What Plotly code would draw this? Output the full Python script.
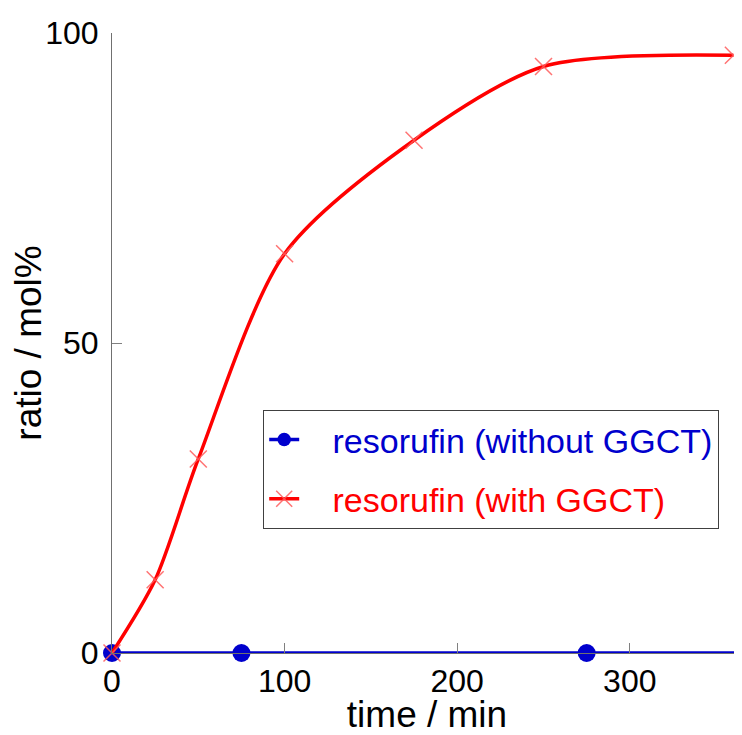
import plotly.graph_objects as go

# data
time_without = [0, 75, 275, 365]
ratio_without = [0, 0, 0, 0]
time_with = [0, 25, 50, 100, 175, 250, 360]
ratio_with = [0, 11.8, 31.3, 64.4, 82.7, 94.6, 96.4]
x_ticks = [0, 100, 200, 300]
y_ticks = [0, 50, 100]

BLUE = "#0000CD"
RED = "#FF0000"
FONT = "Liberation Sans, Arial, sans-serif"
NB = "\u00a0"

fig = go.Figure()
fig.add_trace(go.Scatter(
    x=time_without, y=ratio_without, mode="lines+markers",
    name=NB * 3 + '<span style="color:#0000CD">resorufin (without GGCT)</span>',
    line=dict(color=BLUE, width=3.5),
    marker=dict(symbol="circle", size=[18, 18, 18, 0], color=BLUE, opacity=1,
                line=dict(width=0)),
    legendgroup="a", cliponaxis=False,
))
fig.add_trace(go.Scatter(
    x=time_with, y=ratio_with, mode="lines+markers",
    name=NB * 3 + '<span style="color:#FF0000">resorufin (with GGCT)</span>',
    line=dict(color=RED, width=3.5, shape="spline", smoothing=0.8),
    marker=dict(symbol="x-thin", size=17, color="rgba(255,90,90,0.85)",
                line=dict(color="rgba(255,90,90,0.85)", width=1.5)),
    legendgroup="b", cliponaxis=False,
))

fig.update_layout(
    width=734, height=727,
    margin=dict(l=104, r=0, t=25, b=82),
    paper_bgcolor="white", plot_bgcolor="white",
    font=dict(family=FONT, size=32, color="black"),
    showlegend=True,
    legend=dict(
        x=0.24, y=0.392, xanchor="left", yanchor="top",
        bordercolor="#404040", borderwidth=1, bgcolor="white",
        font=dict(size=34), tracegroupgap=12, itemwidth=30,
    ),
    xaxis=dict(
        range=[0, 365], tickvals=x_ticks, showgrid=False, zeroline=False,
        showline=True, linecolor="#707070", linewidth=1, automargin=False,
        ticks="inside", ticklen=10, tickcolor="#808080", tickwidth=1,
        title=dict(text="time / min", font=dict(size=37), standoff=0),
        ticklabelstandoff=0,
    ),
    yaxis=dict(
        range=[0, 100], tickvals=y_ticks, showgrid=False, zeroline=False,
        showline=True, linecolor="#707070", linewidth=1, automargin=False,
        ticks="inside", ticklen=10, tickcolor="#808080", tickwidth=1,
        title=dict(text="ratio / mol%", font=dict(size=37), standoff=4),
        ticklabelstandoff=6,
    ),
)

fig.write_html("out.html")
